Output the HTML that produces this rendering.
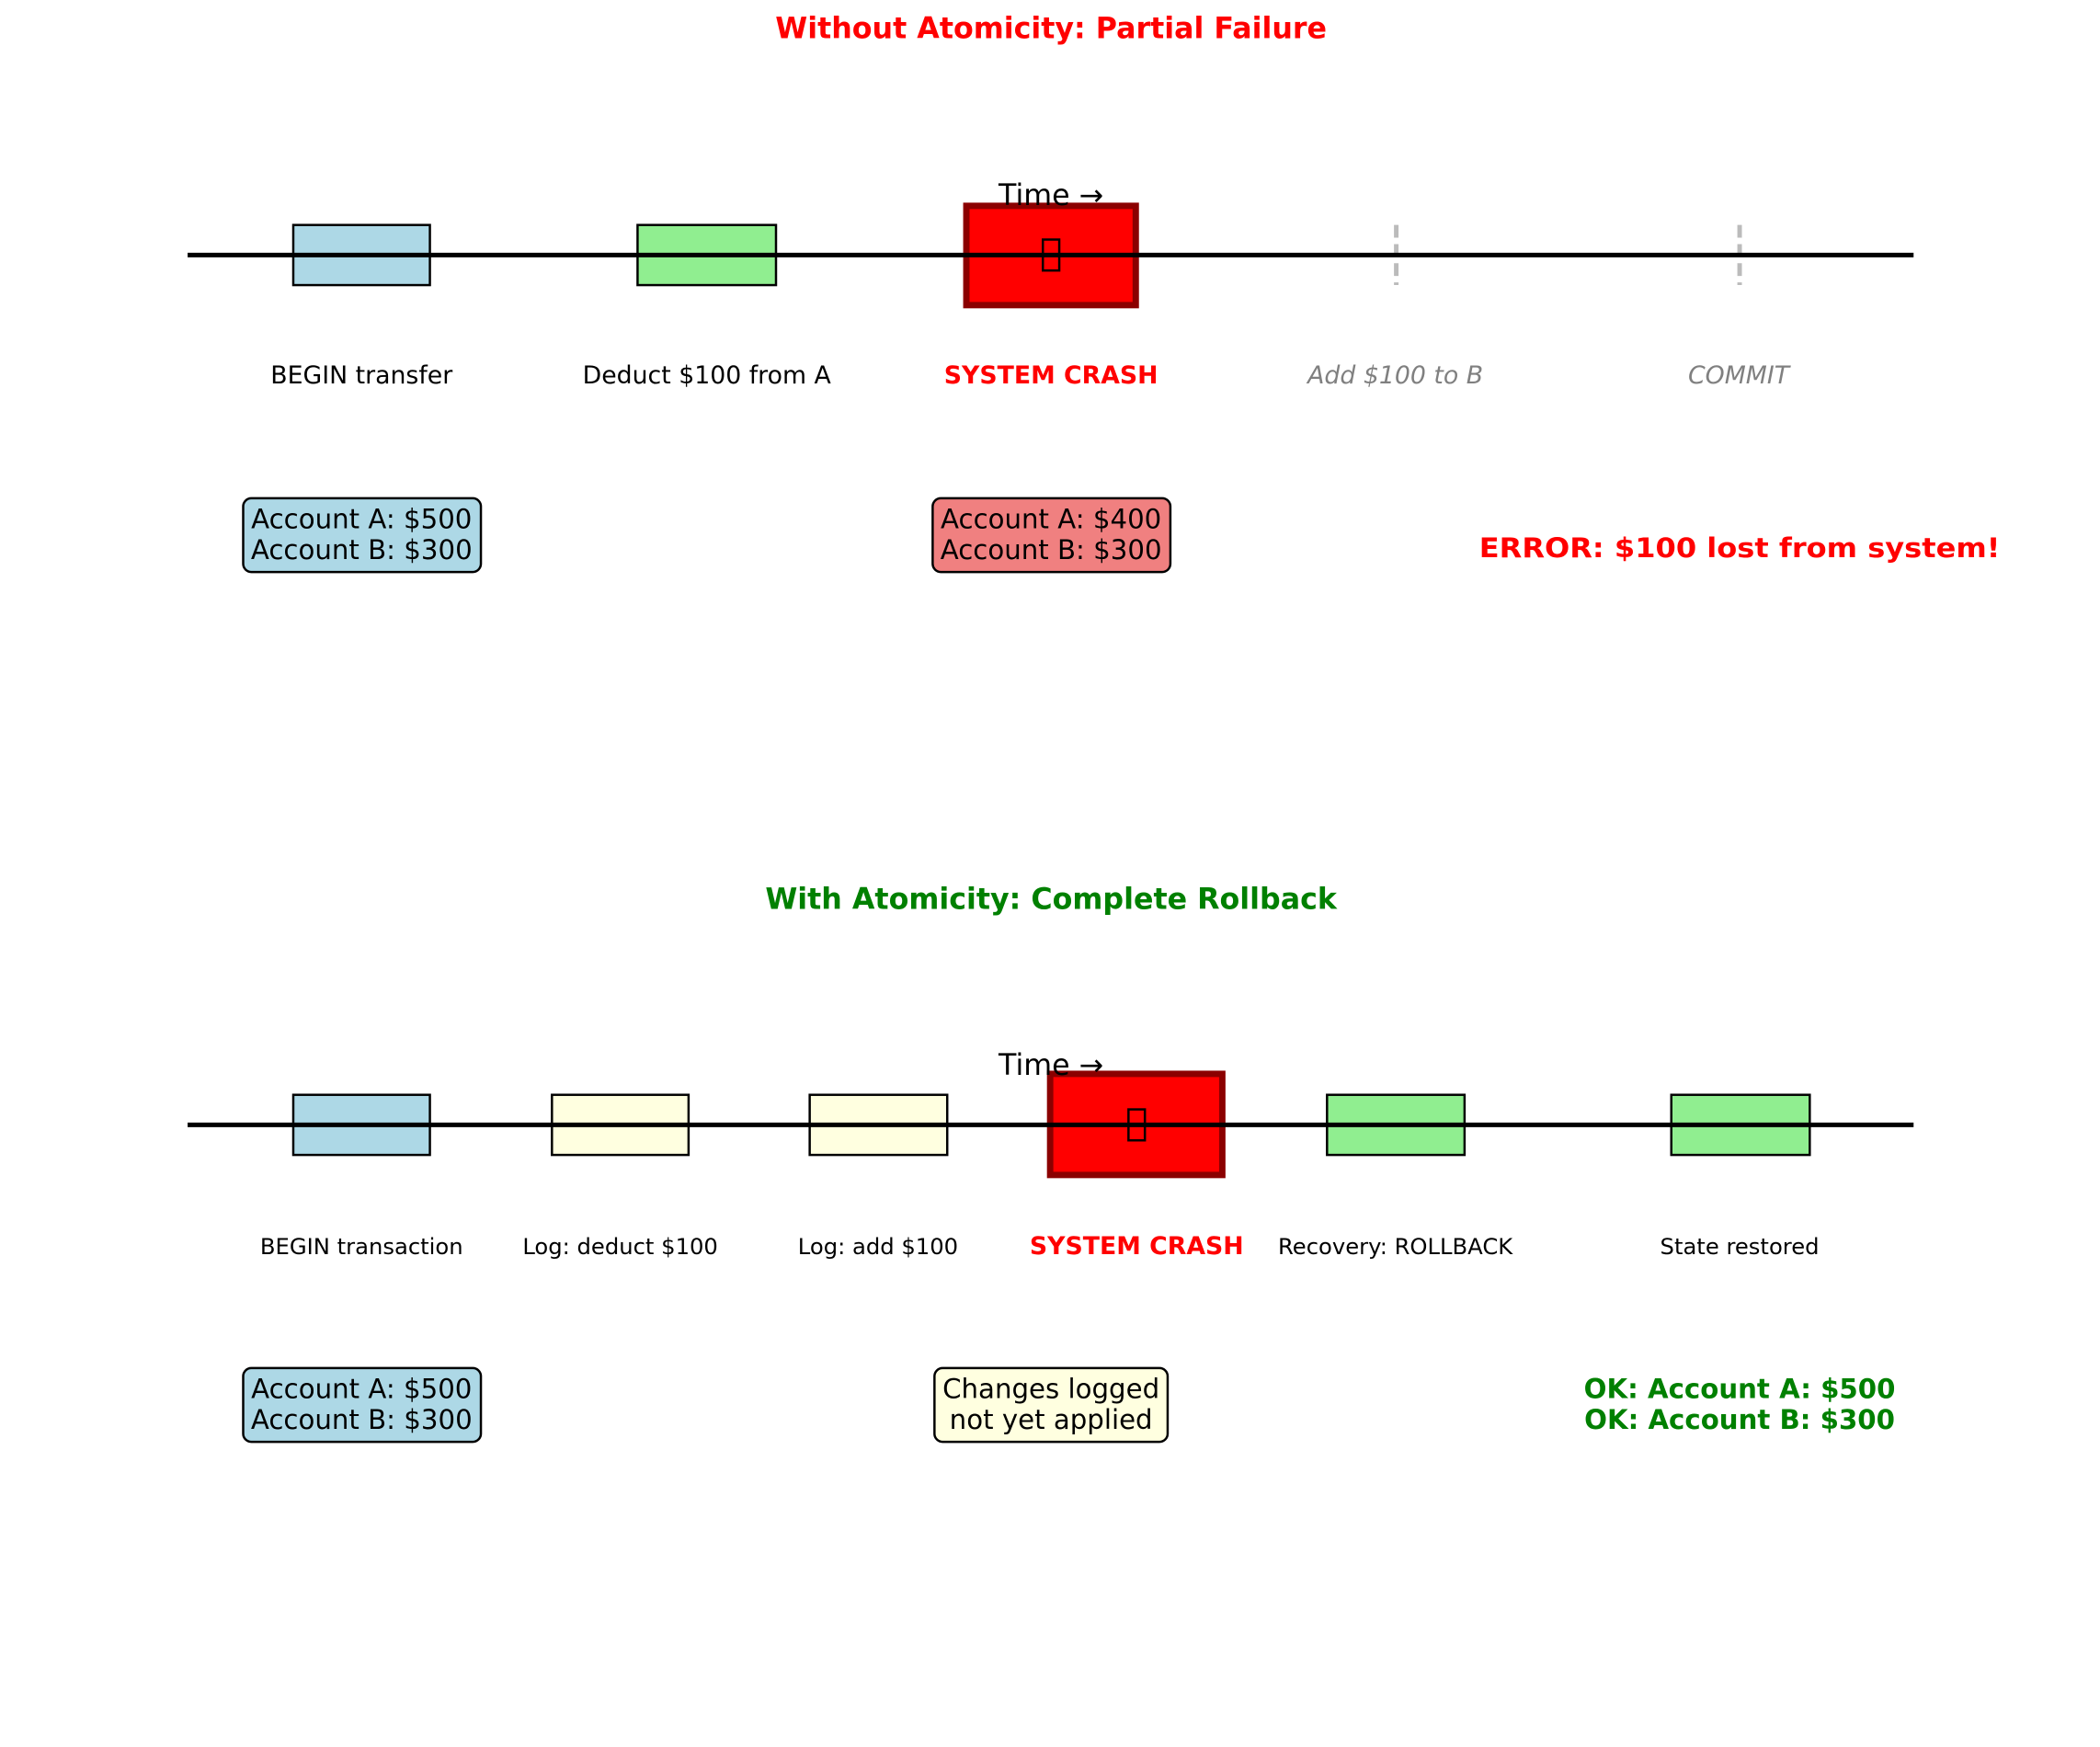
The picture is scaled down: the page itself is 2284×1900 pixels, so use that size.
<!DOCTYPE html>
<html><head><meta charset="utf-8"><style>
html,body{margin:0;padding:0;background:#fff;}
svg{display:block;font-family:"DejaVu Sans","Liberation Sans",sans-serif;}
</style></head><body>
<svg width="2284" height="1900" viewBox="0 0 2284 1900" xmlns="http://www.w3.org/2000/svg">
<rect width="2284" height="1900" fill="#fff"/>
<g transform="scale(0.9906)">
<!-- TOP -->
<text x="1154" y="42" font-size="32" font-weight="bold" fill="#ff0000" text-anchor="middle">Without Atomicity: Partial Failure</text>
<rect x="322" y="247" width="150" height="66" fill="#add8e6" stroke="#000" stroke-width="2.5"/>
<rect x="700" y="247" width="152" height="66" fill="#90ee90" stroke="#000" stroke-width="2.5"/>
<rect x="1061" y="226" width="186" height="109" fill="#ff0000" stroke="#8b0000" stroke-width="7"/>
<line x1="1533" y1="247" x2="1533" y2="313" stroke="#bbb" stroke-width="5" stroke-dasharray="14,7"/>
<line x1="1910" y1="247" x2="1910" y2="313" stroke="#bbb" stroke-width="5" stroke-dasharray="14,7"/>
<line x1="206" y1="280" x2="2101" y2="280" stroke="#000" stroke-width="5"/>
<rect x="1145" y="263" width="18" height="34" fill="none" stroke="#000" stroke-width="2.5"/>
<text x="1154" y="225" font-size="32" fill="#000" text-anchor="middle">Time →</text>
<g font-size="27" text-anchor="middle">
<text x="397" y="421" fill="#000">BEGIN transfer</text>
<text x="776" y="421" fill="#000">Deduct $100 from A</text>
<text x="1154" y="421" fill="#ff0000" font-weight="bold">SYSTEM CRASH</text>
<text x="1532" y="421" fill="#808080" font-style="italic">Add $100 to B</text>
<text x="1909" y="421" fill="#808080" font-style="italic">COMMIT</text>
</g>
<rect x="267" y="547" width="261" height="81" rx="9" fill="#add8e6" stroke="#000" stroke-width="2.5"/>
<rect x="1024" y="547" width="261" height="81" rx="9" fill="#f08080" stroke="#000" stroke-width="2.5"/>
<g font-size="29.5" text-anchor="middle" fill="#000">
<text x="397" y="580">Account A: $500</text>
<text x="397" y="614">Account B: $300</text>
<text x="1154" y="580">Account A: $400</text>
<text x="1154" y="614">Account B: $300</text>
</g>
<text x="1910" y="612" font-size="30" font-weight="bold" fill="#ff0000" text-anchor="middle" textLength="572" lengthAdjust="spacingAndGlyphs">ERROR: $100 lost from system!</text>

<!-- BOTTOM -->
<text x="1154" y="998" font-size="32" font-weight="bold" fill="#008000" text-anchor="middle">With Atomicity: Complete Rollback</text>
<rect x="322" y="1202" width="150" height="66" fill="#add8e6" stroke="#000" stroke-width="2.5"/>
<rect x="606" y="1202" width="150" height="66" fill="#ffffe0" stroke="#000" stroke-width="2.5"/>
<rect x="889" y="1202" width="151" height="66" fill="#ffffe0" stroke="#000" stroke-width="2.5"/>
<rect x="1153" y="1179" width="189" height="111" fill="#ff0000" stroke="#8b0000" stroke-width="7"/>
<rect x="1457" y="1202" width="151" height="66" fill="#90ee90" stroke="#000" stroke-width="2.5"/>
<rect x="1835" y="1202" width="152" height="66" fill="#90ee90" stroke="#000" stroke-width="2.5"/>
<line x1="206" y1="1235" x2="2101" y2="1235" stroke="#000" stroke-width="5"/>
<rect x="1239" y="1218" width="18" height="34" fill="none" stroke="#000" stroke-width="2.5"/>
<text x="1154" y="1180" font-size="32" fill="#000" text-anchor="middle">Time →</text>
<g font-size="24.5" text-anchor="middle" fill="#000">
<text x="397" y="1377">BEGIN transaction</text>
<text x="681" y="1377">Log: deduct $100</text>
<text x="964" y="1377">Log: add $100</text>
<text x="1248" y="1377" fill="#ff0000" font-weight="bold" font-size="27">SYSTEM CRASH</text>
<text x="1532" y="1377">Recovery: ROLLBACK</text>
<text x="1910" y="1377">State restored</text>
</g>
<rect x="267" y="1502" width="261" height="81" rx="9" fill="#add8e6" stroke="#000" stroke-width="2.5"/>
<rect x="1026" y="1502" width="256" height="81" rx="9" fill="#ffffe0" stroke="#000" stroke-width="2.5"/>
<g font-size="29.5" text-anchor="middle" fill="#000">
<text x="397" y="1535">Account A: $500</text>
<text x="397" y="1569">Account B: $300</text>
<text x="1154" y="1535">Changes logged</text>
<text x="1154" y="1569">not yet applied</text>
</g>
<g font-size="29.5" font-weight="bold" fill="#008000" text-anchor="middle">
<text x="1910" y="1535">OK: Account A: $500</text>
<text x="1910" y="1569">OK: Account B: $300</text>
</g>
</g>
</svg>
</body></html>
